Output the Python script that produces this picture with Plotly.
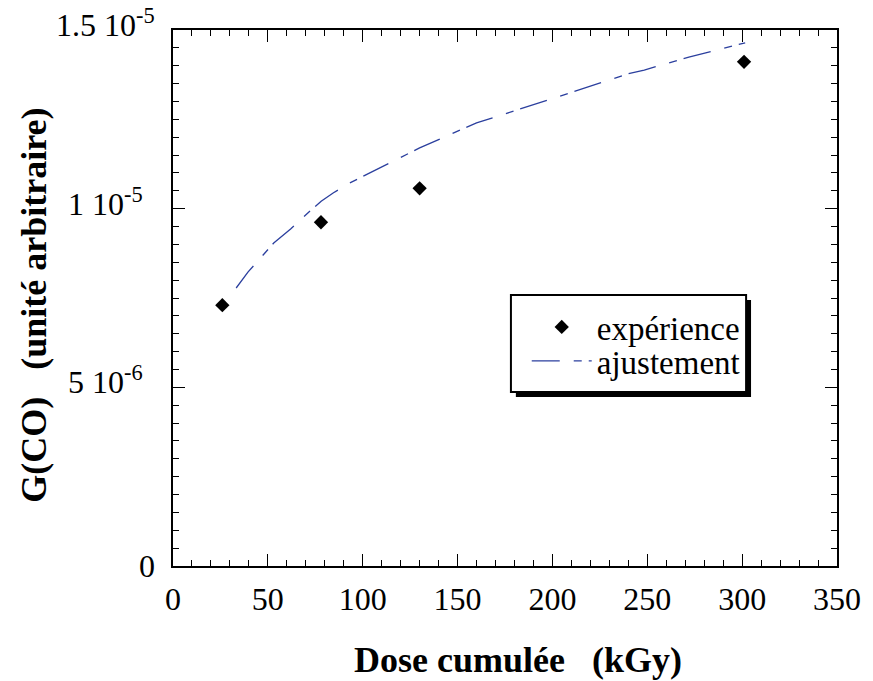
import plotly.graph_objects as go

# Data
dose_exp = [26, 78, 130, 301]
g_exp = [7.30e-6, 9.62e-6, 10.57e-6, 14.11e-6]

dose_fit = [33.3, 39.6, 53.1, 62.0, 68.8, 78.1, 84.4, 93.2, 130, 160, 200, 225, 239.6, 248.4, 271.9, 301.6]
g_fit = [7.78e-6, 8.23e-6, 9.04e-6, 9.43e-6, 9.77e-6, 10.21e-6, 10.44e-6, 10.72e-6,
         11.70e-6, 12.40e-6, 13.08e-6, 13.52e-6, 13.77e-6, 13.88e-6, 14.24e-6, 14.64e-6]

x_ticks = [0, 50, 100, 150, 200, 250, 300, 350]
y_tick_vals = [0, 5e-6, 1e-5, 1.5e-5]
y_tick_text = ["0", "5 10<sup>-6</sup>", "1 10<sup>-5</sup>", "1.5 10<sup>-5</sup>"]

FONT = "Liberation Serif"
W, H = 873, 681
L, R, T, B = 173, 28, 30, 115
PW, PH = W - L - R, H - T - B

def px_x(p):
    return (p - L) / PW

def px_y(p):
    return (H - B - p) / PH

fig = go.Figure()
fig.add_trace(go.Scatter(
    x=dose_exp, y=g_exp, mode="markers", name="expérience",
    marker=dict(symbol="diamond", size=11, color="black"),
    legend="legend",
))
fig.add_trace(go.Scatter(
    x=dose_fit, y=g_fit, mode="lines", name="ajustement",
    line=dict(color="#2b3f9e", width=1.3, dash="28px,14px,8px,7px"),
    legend="legend2",
))

axis_common = dict(
    showline=True, linecolor="black", linewidth=1.5, mirror="allticks",
    ticks="inside", ticklen=12, tickwidth=1.2, tickcolor="black",
    showgrid=False, zeroline=False,
)
fig.update_xaxes(
    range=[0, 350], tickvals=x_ticks,
    tickfont=dict(family=FONT, size=32, color="black"),
    ticklabelstandoff=4,
    minor=dict(dtick=10, ticklen=6, tickwidth=1.2, tickcolor="black", ticks="inside"),
    **axis_common,
)
fig.update_yaxes(
    range=[0, 1.5e-5], tickvals=y_tick_vals, showticklabels=False,
    minor=dict(dtick=5e-7, ticklen=6, tickwidth=1.2, tickcolor="black", ticks="inside"),
    **axis_common,
)

annotations = []
for v, t in zip(y_tick_vals, y_tick_text):
    if t == "0":
        annotations.append(dict(x=px_x(157), xref="paper", y=v, yref="y", text=t,
                                xanchor="right", yanchor="middle", showarrow=False,
                                font=dict(family=FONT, size=32, color="black")))
    else:
        annotations.append(dict(x=px_x(105), xref="paper", y=v, yref="y", text=t,
                                xanchor="center", yanchor="middle", showarrow=False, yshift=7,
                                font=dict(family=FONT, size=32, color="black")))

annotations.append(dict(x=px_x(522), xref="paper", y=px_y(660), yref="paper",
                        text="<b>Dose cumulée   (kGy)</b>", showarrow=False,
                        xanchor="center", yanchor="middle",
                        font=dict(family=FONT, size=36, color="black")))
annotations.append(dict(x=px_x(32), xref="paper", y=px_y(305), yref="paper",
                        text="<b>G(CO)   (unité arbitraire)</b>", showarrow=False, textangle=-90,
                        xanchor="center", yanchor="middle",
                        font=dict(family=FONT, size=36, color="black")))

shapes = [
    # shadow
    dict(type="rect", xref="paper", yref="paper",
         x0=px_x(520), x1=px_x(758), y0=px_y(397), y1=px_y(300),
         fillcolor="black", line=dict(width=0), layer="above"),
    # box
    dict(type="rect", xref="paper", yref="paper",
         x0=px_x(515), x1=px_x(753), y0=px_y(392), y1=px_y(295),
         fillcolor="white", line=dict(color="black", width=2), layer="above"),
]

legend_common = dict(
    bgcolor="rgba(0,0,0,0)", borderwidth=0, xanchor="left", yanchor="middle",
    xref="paper", yref="paper",
    font=dict(family=FONT, size=33, color="black"), itemwidth=60,
)
fig.update_layout(
    width=W, height=H,
    margin=dict(l=L, r=R, t=T, b=B),
    paper_bgcolor="white", plot_bgcolor="white",
    showlegend=True,
    legend=dict(x=px_x(531), y=px_y(327), **legend_common),
    legend2=dict(x=px_x(531), y=px_y(361), **legend_common),
    annotations=annotations,
    shapes=shapes,
)

fig.write_html("out.html",
               config={"displayModeBar": False},
               post_script="document.body.style.margin='0px';document.body.style.overflow='hidden';")
